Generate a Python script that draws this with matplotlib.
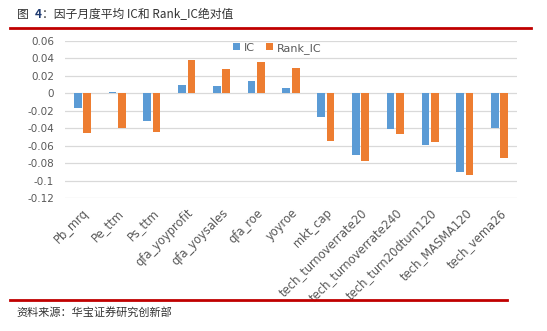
import numpy as np
import matplotlib.pyplot as plt
from matplotlib.lines import Line2D

plt.rcParams['font.family'] = ['Noto Sans CJK SC', 'DejaVu Sans']

factors = ['Pb_mrq', 'Pe_ttm', 'Ps_ttm', 'qfa_yoyprofit', 'qfa_yoysales', 'qfa_roe',
           'yoyroe', 'mkt_cap', 'tech_turnoverrate20', 'tech_turnoverrate240',
           'tech_turn20dturn120', 'tech_MASMA120', 'tech_vema26']
ic = [-0.0165, 0.0015, -0.0315, 0.0096, 0.0085, 0.0142, 0.0065, -0.0270,
      -0.0708, -0.0412, -0.0596, -0.0908, -0.0400]
rank_ic = [-0.0454, -0.0396, -0.0442, 0.0385, 0.0280, 0.0360, 0.0290, -0.0546,
           -0.0777, -0.0469, -0.0562, -0.0942, -0.0746]
yticks = [0.06, 0.04, 0.02, 0, -0.02, -0.04, -0.06, -0.08, -0.1, -0.12]
ytick_labels = ['0.06', '0.04', '0.02', '0', '-0.02', '-0.04', '-0.06', '-0.08', '-0.1', '-0.12']

blue = '#5B9BD5'
orange = '#ED7D31'
gray = '#595959'

fig = plt.figure(figsize=(5.47, 3.31), dpi=100)
ax = fig.add_axes([0.119, 0.402, 0.826, 0.474])

x = np.arange(len(factors))
w = 0.22
ax.bar(x - 0.135, ic, w, color=blue, label='IC', zorder=3)
ax.bar(x + 0.135, rank_ic, w, color=orange, label='Rank_IC', zorder=3)

ax.set_xlim(-0.5, len(factors) - 0.5)
ax.set_ylim(-0.12, 0.06)
ax.set_yticks(yticks)
ax.set_yticklabels(ytick_labels, fontsize=7.5, color=gray, family='DejaVu Sans')
ax.yaxis.grid(True, color='#D9D9D9', linewidth=0.9, zorder=0)
ax.set_xticks(x)
ax.set_xticklabels(factors, rotation=45, ha='right', rotation_mode='anchor',
                   fontsize=8.3, color=gray, family='DejaVu Sans')
ax.tick_params(axis='both', length=0)
ax.tick_params(axis='x', pad=6)
ax.tick_params(axis='y', pad=8)
for s in ax.spines.values():
    s.set_visible(False)

ax.legend(loc='center', bbox_to_anchor=(0.47, 0.955), ncol=2, frameon=False,
          handlelength=0.6, handleheight=0.6, columnspacing=1.0,
          handletextpad=0.4, labelcolor=gray, prop={'family': 'DejaVu Sans', 'size': 8})

# title and decorations
fig.text(0.031, 0.956, '图', fontsize=8.5, color='#333333', va='center')
fig.text(0.063, 0.956, '4', fontsize=8.5, color='#1F3A70', va='center', fontweight='bold')
fig.text(0.076, 0.956, '：因子月度平均 IC和 Rank_IC绝对值', fontsize=8.5, color='#333333', va='center')
fig.add_artist(Line2D([0.018, 0.971], [0.915, 0.915], color='#C00000', linewidth=2))
fig.add_artist(Line2D([0.018, 0.927], [0.094, 0.094], color='#C00000', linewidth=2))
fig.text(0.031, 0.057, '资料来源：华宝证券研究创新部', fontsize=8, color='#333333', va='center')

fig.savefig('out.png', dpi=100)
